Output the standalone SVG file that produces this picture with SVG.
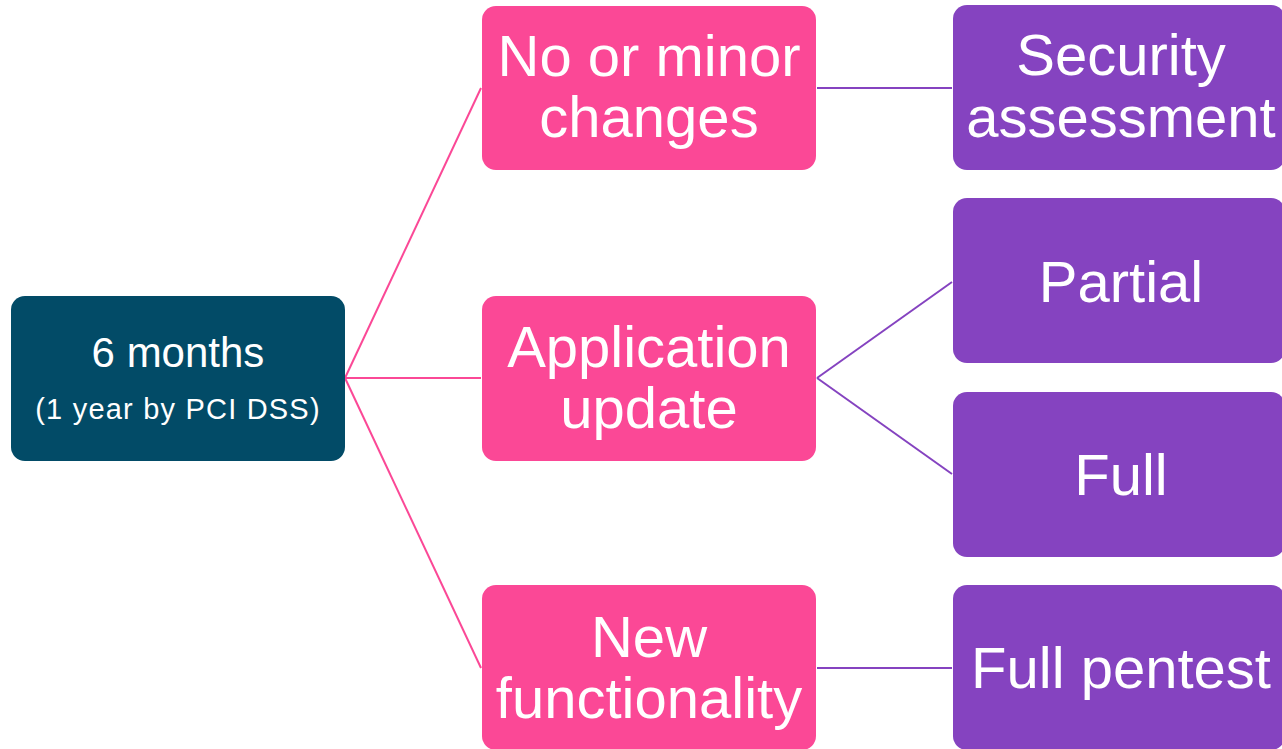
<svg xmlns="http://www.w3.org/2000/svg" width="1282" height="749" viewBox="0 0 1282 749">
  <style>
    .box { stroke: none; }
    .root { fill: #024B67; }
    .mid { fill: #FB4896; }
    .leaf { fill: #8543C0; }
    .label { font-family: "Liberation Sans", Arial, sans-serif; fill: #FFFFFF; text-anchor: middle; }
    .big { font-size: 58px; }
    .link { fill: none; stroke-width: 2; }
    .link-pink { stroke: #FB4896; }
    .link-purple { stroke: #8543C0; }
  </style>
  <rect width="1282" height="749" fill="#FFFFFF"/>

  <!-- connectors -->
  <g id="connectors">
    <line class="link link-pink" x1="345" y1="378" x2="481" y2="88"/>
    <line class="link link-pink" x1="345" y1="378" x2="481" y2="378"/>
    <line class="link link-pink" x1="345" y1="378" x2="481" y2="668"/>
    <line class="link link-purple" x1="817" y1="88" x2="952" y2="88"/>
    <line class="link link-purple" x1="817" y1="378" x2="952" y2="282"/>
    <line class="link link-purple" x1="817" y1="378" x2="952" y2="474"/>
    <line class="link link-purple" x1="817" y1="668" x2="952" y2="668"/>
  </g>

  <!-- root -->
  <g id="node-period">
    <rect class="box root" x="11" y="296" width="334" height="165" rx="14"/>
    <text class="label" x="178" y="367" font-size="42">6 months</text>
    <text class="label" x="178" y="419" font-size="29" letter-spacing="1.2">(1 year by PCI DSS)</text>
  </g>

  <!-- change levels -->
  <g id="node-minor">
    <rect class="box mid" x="482" y="6" width="334" height="164" rx="14"/>
    <text class="label big" x="649" y="76">No or minor</text>
    <text class="label big" x="649" y="137">changes</text>
  </g>
  <g id="node-update">
    <rect class="box mid" x="482" y="296" width="334" height="165" rx="14"/>
    <text class="label big" x="649" y="367">Application</text>
    <text class="label big" x="649" y="428">update</text>
  </g>
  <g id="node-new">
    <rect class="box mid" x="482" y="585" width="334" height="165" rx="14"/>
    <text class="label big" x="649" y="657">New</text>
    <text class="label big" x="649" y="718">functionality</text>
  </g>

  <!-- test types -->
  <g id="node-assessment">
    <rect class="box leaf" x="953" y="5" width="332" height="165" rx="14"/>
    <text class="label big" x="1121" y="75">Security</text>
    <text class="label big" x="1121" y="137">assessment</text>
  </g>
  <g id="node-partial">
    <rect class="box leaf" x="953" y="198" width="332" height="165" rx="14"/>
    <text class="label big" x="1121" y="302">Partial</text>
  </g>
  <g id="node-full">
    <rect class="box leaf" x="953" y="392" width="332" height="165" rx="14"/>
    <text class="label big" x="1121" y="495">Full</text>
  </g>
  <g id="node-pentest">
    <rect class="box leaf" x="953" y="585" width="332" height="165" rx="14"/>
    <text class="label big" x="1121" y="688">Full pentest</text>
  </g>
</svg>
